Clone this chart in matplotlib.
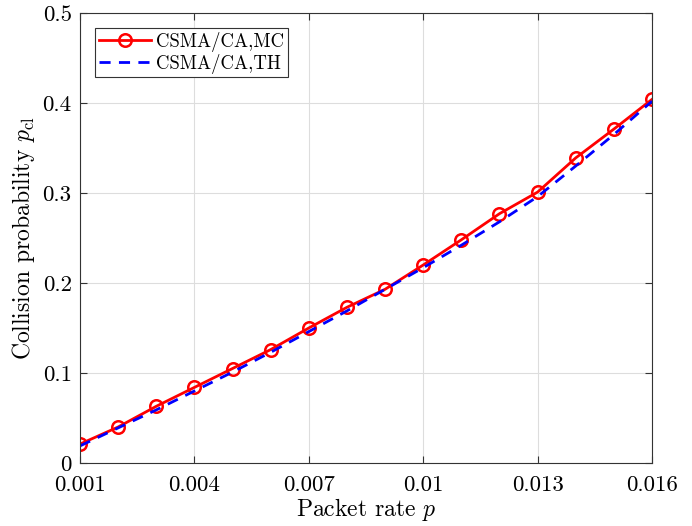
import matplotlib
matplotlib.use("Agg")
import matplotlib.pyplot as plt
import numpy as np

plt.rcParams['font.family'] = 'cmr10'
plt.rcParams['mathtext.fontset'] = 'cm'
plt.rcParams['axes.formatter.use_mathtext'] = True

packet_rate = [0.001, 0.002, 0.003, 0.004, 0.005, 0.006, 0.007, 0.008,
               0.009, 0.010, 0.011, 0.012, 0.013, 0.014, 0.015, 0.016]
mc_values = [0.021, 0.040, 0.063, 0.084, 0.105, 0.126, 0.150, 0.173,
             0.193, 0.220, 0.248, 0.277, 0.301, 0.339, 0.371, 0.404]
th_values = [0.019, 0.039, 0.059, 0.080, 0.101, 0.123, 0.146, 0.169,
             0.193, 0.217, 0.242, 0.268, 0.296, 0.330, 0.365, 0.402]
xtick_vals = [0.001, 0.004, 0.007, 0.01, 0.013, 0.016]
xtick_labels = ['0.001', '0.004', '0.007', '0.01', '0.013', '0.016']
ytick_vals = [0, 0.1, 0.2, 0.3, 0.4, 0.5]
ytick_labels = ['0', '0.1', '0.2', '0.3', '0.4', '0.5']

fig = plt.figure(figsize=(6.92, 5.26), dpi=100)
ax = fig.add_axes([80/692, 1-463/526, (652-80)/692, (463-13)/526])

ax.plot(packet_rate, mc_values, '-o', color='red', lw=2, ms=9, mfc='none',
        mew=1.8, label='CSMA/CA,MC')
ax.plot(packet_rate, th_values, '--', color='blue', lw=2, dashes=(4, 3),
        label='CSMA/CA,TH')

ax.set_xlim(0.001, 0.016)
ax.set_ylim(0, 0.5)
ax.set_xticks(xtick_vals)
ax.set_xticklabels(xtick_labels)
ax.set_yticks(ytick_vals)
ax.set_yticklabels(ytick_labels)
ax.grid(True, color='#dddddd', lw=0.8)
ax.tick_params(direction='in', top=True, right=True, labelsize=16.5, length=5,
               color='#333333', width=0.8)
ax.tick_params(axis='x', pad=9)
ax.tick_params(axis='y', pad=6)
for s in ax.spines.values():
    s.set_color('#333333')
    s.set_linewidth(0.8)

ax.set_xlabel('Packet rate $p$', fontsize=17, labelpad=1)
ax.set_ylabel('Collision probability $p_{\\mathrm{cl}}$', fontsize=17, labelpad=4)

leg = ax.legend(loc='upper left', fontsize=13.5, fancybox=False, edgecolor='#333333',
                handlelength=2.8, handletextpad=0.25, borderaxespad=0.8,
                borderpad=0.2, labelspacing=0.1, framealpha=1)
leg.get_frame().set_linewidth(0.8)

fig.savefig('out.png', dpi=100)
